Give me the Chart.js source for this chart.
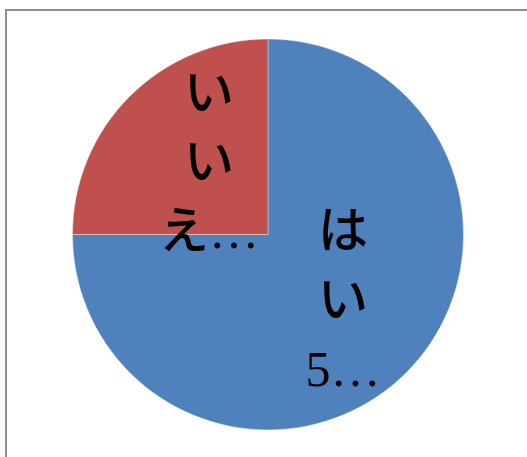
<!DOCTYPE html>
<html>
<head>
<meta charset="utf-8">
<script src="https://cdn.jsdelivr.net/npm/chart.js@4.4.0/dist/chart.umd.min.js"></script>
<style>
    html, body { margin: 0; padding: 0; background: #fff; overflow: hidden; }
    .frame {
        position: absolute;
        left: 5px;
        top: 9px;
        width: 600px;
        height: 600px;
        border-left: 2px solid #8e8e8e;
        border-top: 2px solid #8e8e8e;
    }
    #answerPie { position: absolute; left: 0; top: 0; }
</style>
</head>
<body>
<div class="frame"></div>
<canvas id="answerPie" width="527" height="457"></canvas>
<script>
// data
const categories = ['はい', 'いいえ'];
const answerValues = [75, 25];
const sliceColors = ['#4F81BD', '#C0504D'];
// the labels are cut short in the original, one character per line
const labelLines = [
    ['は', 'い', '5…'],
    ['い', 'い', 'え…']
];

// draws the wrapped data labels at each slice's centre
const sliceLabels = {
    id: 'sliceLabels',
    afterDatasetsDraw(chart, args, opts) {
        const ctx = chart.ctx;
        const meta = chart.getDatasetMeta(0);
        ctx.save();
        ctx.fillStyle = '#000';
        ctx.font = opts.font;
        ctx.textAlign = 'center';
        ctx.textBaseline = 'middle';
        meta.data.forEach((arc, i) => {
            const pos = arc.tooltipPosition();
            const lines = labelLines[i];
            const dx = (opts.nudge && opts.nudge[i]) || 0;
            lines.forEach((line, j) => {
                const y = pos.y + (j - (lines.length - 1) / 2) * opts.lineHeight;
                ctx.fillText(line, pos.x + dx, y);
            });
        });
        ctx.restore();
    }
};

const ctx = document.getElementById('answerPie').getContext('2d');
new Chart(ctx, {
    type: 'pie',
    data: {
        labels: categories,
        datasets: [{
            data: answerValues,
            backgroundColor: sliceColors,
            borderColor: 'rgba(255,255,255,0.35)',
            borderWidth: 1
        }]
    },
    options: {
        responsive: false,
        animation: false,
        layout: {
            padding: { left: 72, right: 63, top: 38, bottom: 26 }
        },
        plugins: {
            legend: { display: false },
            tooltip: { enabled: false },
            sliceLabels: {
                font: '500 50px "Liberation Serif", "DejaVu Serif", "Noto Sans CJK JP", serif',
                lineHeight: 69,
                nudge: [6, 10]
            }
        }
    },
    plugins: [sliceLabels]
});
</script>
</body>
</html>
